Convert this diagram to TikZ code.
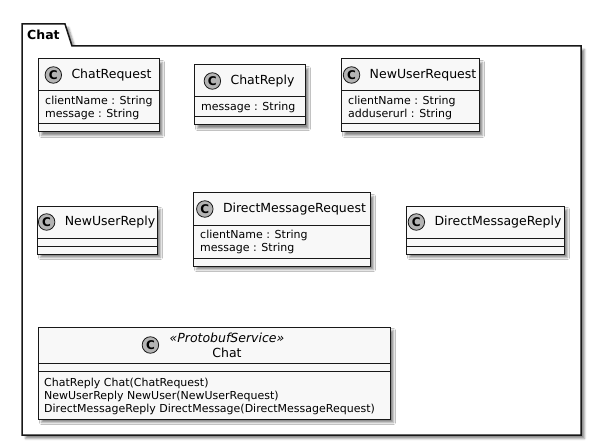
\documentclass[tikz,border=0pt]{standalone}
\usepackage{fontspec}
\setmainfont{DejaVu Sans}
\usetikzlibrary{positioning,backgrounds,shadows.blur}

\definecolor{umlline}{HTML}{181818}
\definecolor{umlfill}{HTML}{F8F8F8}
\definecolor{spotgray}{HTML}{B4B4B4}

\begin{document}
\begin{tikzpicture}[
    x=1pt, y=-1pt,
    node distance=0pt,
    shade/.style={blur shadow={shadow xshift=3.5pt, shadow yshift=-3.5pt, shadow blur radius=2pt, shadow opacity=45}},
    part/.style={rectangle, draw=umlline, fill=umlfill, line width=1pt, inner sep=0pt, outer sep=0pt},
    head/.style={part, minimum height=32pt, anchor=north west},
    fields/.style={part, minimum height=#1},
    fields/.default=8pt,
    spot/.style={circle, draw=umlline, fill=spotgray, line width=0.8pt, minimum size=16.5pt, inner sep=0pt, font=\bfseries\fontsize{12}{12}\selectfont},
    cname/.style={inner sep=0pt, align=center, font=\fontsize{12.5}{15}\selectfont},
    attr/.style={inner sep=0pt, anchor=west, align=left, font=\fontsize{11}{13}\selectfont},
    pkg/.style={draw=umlline, fill=white, line width=1.5pt, line join=miter, shade}
]

\useasboundingbox (0,0) rectangle (601,446);

% Package
\begin{scope}[on background layer]
\draw[pkg] (22,24) -- (65,24) -- (72,46) -- (581,46) -- (581,435) -- (22,435) -- cycle;
\end{scope}
\node[anchor=west, inner sep=0pt, font=\bfseries\fontsize{12.5}{15}\selectfont] (pkg_name) at (27,35) {Chat};

% Row 1
\node[head, minimum width=121pt] (chatreq) at (38,59) {};
\node[fields=33pt, minimum width=121pt, below=of chatreq] (chatreq_f) {};
\node[fields, minimum width=121pt, below=of chatreq_f] (chatreq_m) {};
\node[cname] (chatreq_n) at ([xshift=13pt]chatreq.center) {ChatRequest};
\node[spot] (chatreq_c) at ([xshift=-18pt]chatreq_n.west) {C};
\node[attr] (chatreq_a) at ([xshift=7pt]chatreq_f.west) {clientName : String\\message : String};

\node[head, minimum width=111pt] (chatrep) at (194,65) {};
\node[fields=20pt, minimum width=111pt, below=of chatrep] (chatrep_f) {};
\node[fields, minimum width=111pt, below=of chatrep_f] (chatrep_m) {};
\node[cname] (chatrep_n) at ([xshift=13pt]chatrep.center) {ChatReply};
\node[spot] (chatrep_c) at ([xshift=-18pt]chatrep_n.west) {C};
\node[attr] (chatrep_a) at ([xshift=7pt]chatrep_f.west) {message : String};

\node[head, minimum width=138pt] (newreq) at (341,59) {};
\node[fields=33pt, minimum width=138pt, below=of newreq] (newreq_f) {};
\node[fields, minimum width=138pt, below=of newreq_f] (newreq_m) {};
\node[cname] (newreq_n) at ([xshift=13pt]newreq.center) {NewUserRequest};
\node[spot] (newreq_c) at ([xshift=-18pt]newreq_n.west) {C};
\node[attr] (newreq_a) at ([xshift=7pt]newreq_f.west) {clientName : String\\adduserurl : String};

% Row 2
\node[head, minimum width=120pt] (newrep) at (37,206) {};
\node[fields, minimum width=120pt, below=of newrep] (newrep_f) {};
\node[fields, minimum width=120pt, below=of newrep_f] (newrep_m) {};
\node[cname] (newrep_n) at ([xshift=13pt]newrep.center) {NewUserReply};
\node[spot] (newrep_c) at ([xshift=-18pt]newrep_n.west) {C};

\node[head, minimum width=177pt] (dmreq) at (193,193) {};
\node[fields=33pt, minimum width=177pt, below=of dmreq] (dmreq_f) {};
\node[fields, minimum width=177pt, below=of dmreq_f] (dmreq_m) {};
\node[cname] (dmreq_n) at ([xshift=13pt]dmreq.center) {DirectMessageRequest};
\node[spot] (dmreq_c) at ([xshift=-18pt]dmreq_n.west) {C};
\node[attr] (dmreq_a) at ([xshift=7pt]dmreq_f.west) {clientName : String\\message : String};

\node[head, minimum width=158pt] (dmrep) at (406,206) {};
\node[fields, minimum width=158pt, below=of dmrep] (dmrep_f) {};
\node[fields, minimum width=158pt, below=of dmrep_f] (dmrep_m) {};
\node[cname] (dmrep_n) at ([xshift=13pt]dmrep.center) {DirectMessageReply};
\node[spot] (dmrep_c) at ([xshift=-18pt]dmrep_n.west) {C};

% Service
\node[head, minimum width=352pt, minimum height=36pt] (chat) at (38,327) {};
\node[fields, minimum width=352pt, below=of chat] (chat_f) {};
\node[fields=48pt, minimum width=352pt, below=of chat_f] (chat_m) {};
\node[cname] (chat_n) at ([xshift=13pt]chat.center) {\textit{«ProtobufService»}\\Chat};
\node[spot] (chat_c) at ([xshift=-19pt]chat_n.west) {C};
\node[attr] (chat_a) at ([xshift=6pt, yshift=-1pt]chat_m.west) {ChatReply Chat(ChatRequest)\\NewUserReply NewUser(NewUserRequest)\\DirectMessageReply DirectMessage(DirectMessageRequest)};

% Shadows
\begin{scope}[on background layer]
\foreach \cls in {chatreq,chatrep,newreq,newrep,dmreq,dmrep,chat}
    \path[shade] (\cls.north west) rectangle (\cls_m.south east);
\end{scope}

\end{tikzpicture}
\end{document}
